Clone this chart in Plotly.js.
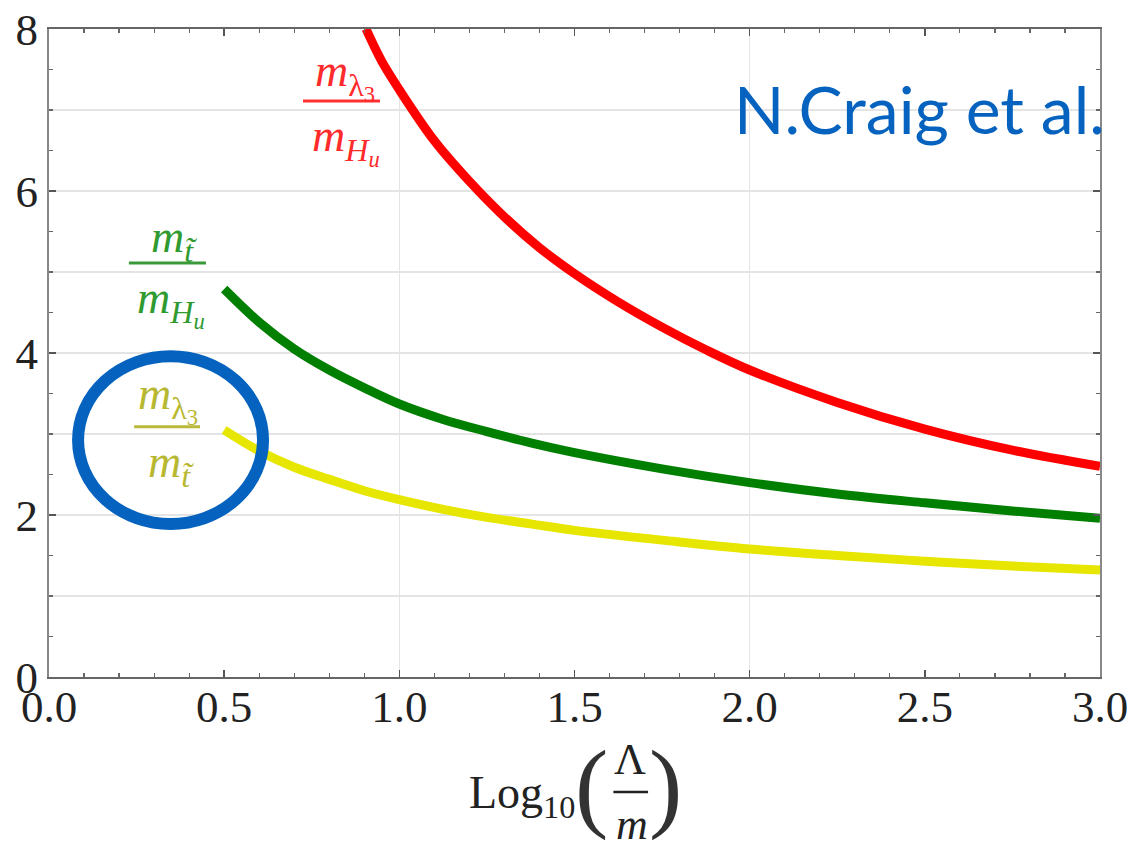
<!DOCTYPE html>
<html>
<head>
<meta charset="utf-8">
<script src="https://cdn.plot.ly/plotly-3.0.1.min.js"></script>
<style>html,body{margin:0;padding:0;background:#fff;}#chart{width:1132px;height:842px;}</style>
</head>
<body>
<div id="chart"></div>
<script>
// ---- data ----
const xRed    = [0.905, 0.95, 1.0, 1.1, 1.2, 1.3, 1.4, 1.5, 1.625, 1.75, 1.875, 2.0, 2.25, 2.5, 2.75, 3.0];
const yRed    = [8.0, 7.6, 7.25, 6.62, 6.12, 5.68, 5.30, 4.98, 4.63, 4.32, 4.04, 3.79, 3.39, 3.06, 2.80, 2.60];
const xGreen  = [0.5, 0.6, 0.7, 0.8, 0.9, 1.0, 1.125, 1.25, 1.375, 1.5, 1.75, 2.0, 2.25, 2.5, 2.75, 3.0];
const yGreen  = [4.79, 4.38, 4.05, 3.79, 3.57, 3.37, 3.18, 3.03, 2.89, 2.77, 2.57, 2.40, 2.26, 2.15, 2.05, 1.96];
const xYellow = [0.5, 0.6, 0.7, 0.8, 0.9, 1.0, 1.125, 1.25, 1.375, 1.5, 1.75, 2.0, 2.25, 2.5, 2.75, 3.0];
const yYellow = [3.05, 2.79, 2.59, 2.44, 2.30, 2.19, 2.07, 1.97, 1.89, 1.81, 1.69, 1.58, 1.50, 1.43, 1.37, 1.32];

const xRange = [0, 3];
const yRange = [0, 8];

const labelRedNum    = '<i>m</i><sub>λ<sub>3</sub></sub>';
const labelRedDen    = '<i>m</i><sub><i>H<sub>u</sub></i></sub>';
const labelGreenNum  = '<i>m</i><sub><i>t̃</i></sub>';
const labelGreenDen  = '<i>m</i><sub><i>H<sub>u</sub></i></sub>';
const labelYellowNum = '<i>m</i><sub>λ<sub>3</sub></sub>';
const labelYellowDen = '<i>m</i><sub><i>t̃</i></sub>';
const creditText     = 'N.Craig et al.';

const serif = 'Liberation Serif, DejaVu Serif, serif';

const traces = [
  {x: xRed, y: yRed, mode: 'lines', line: {color: '#ff0000', width: 9, shape: 'spline', smoothing: 1}, hoverinfo: 'skip'},
  {x: xGreen, y: yGreen, mode: 'lines', line: {color: '#007f00', width: 9, shape: 'spline', smoothing: 1}, hoverinfo: 'skip'},
  {x: xYellow, y: yYellow, mode: 'lines', line: {color: '#e6e600', width: 9, shape: 'spline', smoothing: 1}, hoverinfo: 'skip'},
  {x: [], y: [], xaxis: 'x2', yaxis: 'y2', mode: 'lines', hoverinfo: 'skip'}
];

const tickFont = {family: serif, size: 45, color: '#222'};

const layout = {
  width: 1132, height: 842,
  margin: {l: 49, r: 32, t: 29, b: 165, pad: 0},
  paper_bgcolor: '#fff', plot_bgcolor: '#fff',
  showlegend: false,
  xaxis: {
    range: xRange, tick0: 0, dtick: 0.5, tickformat: '.1f',
    ticks: 'inside', ticklen: 7, tickwidth: 1.5, tickcolor: '#555',
    showline: true, linecolor: '#666', linewidth: 2, mirror: 'ticks',
    showgrid: false, zeroline: false, tickfont: tickFont, ticklabelstandoff: -11,
    minor: {dtick: 0.1, ticks: 'inside', ticklen: 4, tickwidth: 1.2, tickcolor: '#666', showgrid: false}
  },
  yaxis: {
    range: yRange, tick0: 0, dtick: 2,
    ticks: 'inside', ticklen: 7, tickwidth: 1.5, tickcolor: '#555',
    showline: true, linecolor: '#888', linewidth: 2, mirror: 'ticks',
    showgrid: false, zeroline: false, tickfont: tickFont, ticklabelstandoff: 0,
    minor: {dtick: 0.5, ticks: 'inside', ticklen: 4, tickwidth: 1.2, tickcolor: '#666', showgrid: false}
  },
  xaxis2: {
    overlaying: 'x', anchor: 'y2', range: xRange, dtick: 1, showgrid: true,
    gridcolor: '#e4e4e4', gridwidth: 1.5, showticklabels: false, ticks: '',
    showline: false, zeroline: false
  },
  yaxis2: {
    overlaying: 'y', anchor: 'x2', range: yRange, dtick: 1, showgrid: true,
    gridcolor: '#e4e4e4', gridwidth: 1.5, showticklabels: false, ticks: '',
    showline: false, zeroline: false
  },
  shapes: [
    {type: 'circle', xref: 'x', yref: 'y', x0: 0.083, x1: 0.611, y0: 1.89, y1: 3.96,
     line: {color: '#0562be', width: 12}},
    {type: 'line', xref: 'x', yref: 'y', x0: 0.725, x1: 0.945, y0: 7.11, y1: 7.11, line: {color: '#ff3030', width: 3}},
    {type: 'line', xref: 'x', yref: 'y', x0: 0.228, x1: 0.448, y0: 5.11, y1: 5.11, line: {color: '#3a9a3a', width: 3}},
    {type: 'line', xref: 'x', yref: 'y', x0: 0.243, x1: 0.431, y0: 3.09, y1: 3.09, line: {color: '#b9b93a', width: 3}},
    {type: 'line', xref: 'paper', yref: 'paper', x0: 0.537, x1: 0.570, y0: -0.1775, y1: -0.1775, line: {color: '#222', width: 2.5}}
  ],
  annotations: [
    {text: labelRedNum, x: 0.845, y: 7.42, xref: 'x', yref: 'y', showarrow: false, font: {family: serif, size: 46, color: '#ff2a2a'}},
    {text: labelRedDen, x: 0.848, y: 6.62, xref: 'x', yref: 'y', showarrow: false, font: {family: serif, size: 46, color: '#ff2a2a'}},
    {text: labelGreenNum, x: 0.357, y: 5.40, xref: 'x', yref: 'y', showarrow: false, font: {family: serif, size: 46, color: '#2f9a2f'}},
    {text: labelGreenDen, x: 0.348, y: 4.62, xref: 'x', yref: 'y', showarrow: false, font: {family: serif, size: 46, color: '#2f9a2f'}},
    {text: labelYellowNum, x: 0.34, y: 3.43, xref: 'x', yref: 'y', showarrow: false, font: {family: serif, size: 46, color: '#b8b830'}},
    {text: labelYellowDen, x: 0.348, y: 2.62, xref: 'x', yref: 'y', showarrow: false, font: {family: serif, size: 46, color: '#b8b830'}},
    {text: creditText, x: 1.0067, y: 0.877, xref: 'paper', yref: 'paper', xanchor: 'right', yanchor: 'middle', showarrow: false,
     font: {family: 'Lato, Open Sans, sans-serif', size: 66, color: '#0562be'}},
    // x-axis title Log10(Λ/m)
    {text: 'Log<sub>10</sub>', x: 0.5025, y: -0.1836, xref: 'paper', yref: 'paper', xanchor: 'right', yanchor: 'middle', showarrow: false,
     font: {family: serif, size: 46, color: '#222'}},
    {text: '(', x: 0.5165, y: -0.168, xref: 'paper', yref: 'paper', xanchor: 'center', yanchor: 'middle', showarrow: false,
     font: {family: serif, size: 100, color: '#333'}},
    {text: 'Λ', x: 0.553, y: -0.128, xref: 'paper', yref: 'paper', xanchor: 'center', yanchor: 'middle', showarrow: false,
     font: {family: serif, size: 44, color: '#222'}},
    {text: '<i>m</i>', x: 0.555, y: -0.228, xref: 'paper', yref: 'paper', xanchor: 'center', yanchor: 'middle', showarrow: false,
     font: {family: serif, size: 44, color: '#222'}},
    {text: ')', x: 0.5865, y: -0.168, xref: 'paper', yref: 'paper', xanchor: 'center', yanchor: 'middle', showarrow: false,
     font: {family: serif, size: 100, color: '#333'}}
  ]
};

Plotly.newPlot('chart', traces, layout, {staticPlot: true, displayModeBar: false});
</script>
</body>
</html>
